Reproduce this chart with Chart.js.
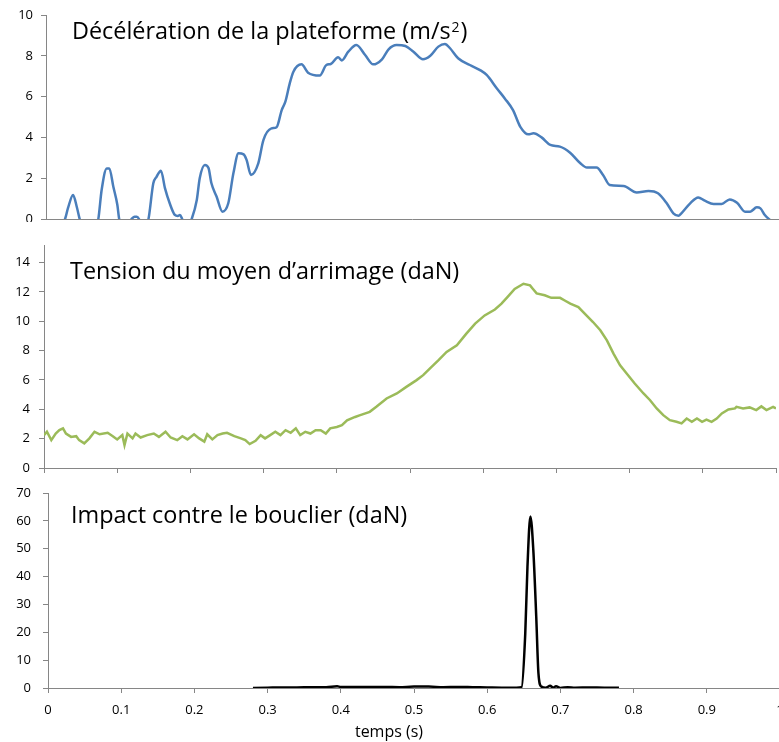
<!DOCTYPE html>
<html>
<head>
<meta charset="utf-8">
<script src="https://cdn.jsdelivr.net/npm/chart.js@4/dist/chart.umd.min.js"></script>
<style>
  html, body { margin:0; padding:0; background:#fff; overflow:hidden; width:779px; height:742px; }
  canvas { position:absolute; left:0; }
</style>
</head>
<body>
<canvas id="decel" width="779" height="222" style="top:0"></canvas>
<canvas id="tension" width="779" height="250" style="top:230px"></canvas>
<canvas id="impact" width="800" height="262" style="top:480px"></canvas>
<script>
// Décélération de la plateforme (m/s²)
const decelT = [0, 0.015, 0.026, 0.030, 0.037, 0.042, 0.046, 0.058, 0.0715, 0.076, 0.083, 0.0865, 0.092, 0.0975, 0.100,
  0.108, 0.117, 0.121, 0.124, 0.127, 0.133, 0.140, 0.1466, 0.151, 0.157, 0.1626, 0.169, 0.176, 0.180, 0.183, 0.186, 0.192,
  0.199, 0.206, 0.210, 0.217, 0.222, 0.226, 0.233, 0.241, 0.249, 0.256, 0.263, 0.270, 0.274, 0.280, 0.290, 0.297, 0.308,
  0.315, 0.322, 0.327, 0.333, 0.338, 0.349, 0.358, 0.374, 0.383, 0.389, 0.399, 0.404, 0.413, 0.424, 0.436, 0.447, 0.459,
  0.468, 0.479, 0.491, 0.502, 0.515, 0.525, 0.536, 0.545, 0.552, 0.563, 0.579, 0.593, 0.602, 0.616, 0.627, 0.638, 0.648,
  0.659, 0.666, 0.677, 0.689, 0.702, 0.716, 0.730, 0.739, 0.752, 0.761, 0.770, 0.789, 0.807, 0.823, 0.836, 0.848, 0.857,
  0.864, 0.868, 0.880, 0.891, 0.900, 0.912, 0.923, 0.934, 0.944, 0.955, 0.962, 0.971, 0.976, 0.982, 0.989, 1.0];
const decelV = [-0.8, -0.4, 0, 0.53, 1.18, 0.6, 0, -1.5, 0, 1.42, 2.48, 2.48, 1.58, 0.69, 0,
  -0.4, 0, 0.11, 0.11, 0, -0.6, 0, 1.75, 2.07, 2.37, 1.5, 0.77, 0.2, 0.15, 0.2, 0, -0.5,
  0, 0.93, 2.0, 2.65, 2.5, 1.75, 1.1, 0.36, 0.77, 2.24, 3.22, 3.17, 2.9, 2.16, 2.73, 3.87, 4.44,
  4.5, 5.34, 5.75, 6.65, 7.22, 7.58, 7.17, 7.03, 7.55, 7.6, 7.93, 7.77, 8.2, 8.53, 8.04, 7.58, 7.83,
  8.32, 8.53, 8.48, 8.2, 7.83, 8.0, 8.45, 8.58, 8.37, 7.88, 7.55, 7.3, 7.06, 6.4, 5.9, 5.34, 4.52,
  4.15, 4.2, 4.0, 3.63, 3.55, 3.25, 2.73, 2.52, 2.52, 2.16, 1.67, 1.62, 1.3, 1.37, 1.26, 0.77, 0.28,
  0.16, 0.28, 0.77, 1.06, 0.9, 0.74, 0.74, 0.96, 0.8, 0.36, 0.36, 0.57, 0.52, 0.2, -0.05, -0.4];

// Tension du moyen d'arrimage (daN)
const tensionT = [0, 0.004, 0.010, 0.016, 0.021, 0.026, 0.030, 0.037, 0.044, 0.048, 0.055, 0.062, 0.069, 0.076, 0.087,
  0.094, 0.100, 0.107, 0.110, 0.114, 0.121, 0.125, 0.132, 0.141, 0.150, 0.157, 0.166, 0.173, 0.182, 0.189, 0.196, 0.205,
  0.212, 0.219, 0.223, 0.230, 0.237, 0.244, 0.250, 0.260, 0.269, 0.275, 0.281, 0.289, 0.296, 0.302, 0.309, 0.316, 0.323,
  0.330, 0.337, 0.344, 0.350, 0.357, 0.364, 0.371, 0.378, 0.385, 0.391, 0.400, 0.407, 0.414, 0.425, 0.432, 0.445, 0.454,
  0.468, 0.482, 0.495, 0.509, 0.518, 0.527, 0.539, 0.550, 0.564, 0.577, 0.589, 0.602, 0.616, 0.625, 0.634, 0.643, 0.655,
  0.664, 0.668, 0.673, 0.684, 0.693, 0.705, 0.712, 0.719, 0.730, 0.741, 0.750, 0.760, 0.769, 0.778, 0.787, 0.796, 0.807,
  0.819, 0.828, 0.837, 0.846, 0.855, 0.864, 0.871, 0.878, 0.885, 0.892, 0.899, 0.905, 0.912, 0.919, 0.926, 0.935, 0.944,
  0.946, 0.955, 0.964, 0.973, 0.980, 0.987, 0.996, 1.0];
const tensionV = [2.24, 2.47, 1.9, 2.35, 2.58, 2.7, 2.35, 2.12, 2.17, 1.9, 1.68, 2.02, 2.47, 2.3, 2.4,
  2.17, 1.95, 2.24, 1.56, 2.35, 2.02, 2.35, 2.08, 2.24, 2.35, 2.12, 2.47, 2.08, 1.9, 2.17, 1.95, 2.3,
  2.02, 1.8, 2.3, 1.95, 2.24, 2.35, 2.4, 2.17, 2.02, 1.9, 1.63, 1.85, 2.24, 2.02, 2.24, 2.47, 2.24,
  2.58, 2.4, 2.7, 2.24, 2.47, 2.35, 2.58, 2.58, 2.35, 2.7, 2.8, 2.92, 3.25, 3.48, 3.6, 3.83, 4.17,
  4.74, 5.08, 5.53, 5.99, 6.33, 6.78, 7.35, 7.91, 8.37, 9.16, 9.84, 10.4, 10.8, 11.2, 11.7, 12.2, 12.56,
  12.45, 12.2, 11.9, 11.77, 11.6, 11.6, 11.4, 11.2, 10.97, 10.4, 9.95, 9.39, 8.7, 7.8, 7.0, 6.44, 5.76,
  5.08, 4.62, 4.06, 3.6, 3.26, 3.15, 3.04, 3.37, 3.15, 3.37, 3.15, 3.3, 3.15, 3.37, 3.72, 3.99, 4.06,
  4.17, 4.06, 4.13, 3.95, 4.2, 3.95, 4.17, 4.06];

// Impact contre le bouclier (daN)
const impactT = [0.28, 0.30, 0.32, 0.34, 0.36, 0.38, 0.395, 0.40, 0.42, 0.44, 0.46, 0.48, 0.50, 0.52, 0.54, 0.56, 0.58,
  0.60, 0.62, 0.64, 0.647, 0.652, 0.655, 0.659, 0.663, 0.667, 0.670, 0.674, 0.68, 0.686, 0.69, 0.694, 0.70, 0.71, 0.72,
  0.74, 0.76, 0.78];
const impactV = [0, 0.1, 0.2, 0.2, 0.3, 0.3, 0.6, 0.4, 0.4, 0.4, 0.4, 0.3, 0.5, 0.5, 0.3, 0.4, 0.3,
  0.2, 0.1, 0.1, 0.3, 19.6, 43.5, 61.6, 49.5, 25.6, 5.3, 0.5, 0.1, 0.8, 0.1, 0.6, 0, 0.3, 0.1,
  0.2, 0.1, 0.1];

const xTicks = [0, 0.1, 0.2, 0.3, 0.4, 0.5, 0.6, 0.7, 0.8, 0.9, 1];

const FONT = '"Open Sans", Lato, sans-serif';
Chart.defaults.font.family = FONT;
Chart.defaults.font.size = 13;
Chart.defaults.color = '#000';

const AXIS = '#868686';
const pts = (xs, ys) => xs.map((x, i) => ({x: x, y: ys[i]}));

// title drawn inside the plot area, top-left
const innerTitle = {
  id: 'innerTitle',
  afterDraw(chart, args, o) {
    const ctx = chart.ctx;
    ctx.save();
    ctx.fillStyle = '#000';
    ctx.textBaseline = 'alphabetic';
    ctx.font = '23.4px ' + FONT;
    let x = o.x;
    ctx.fillText(o.text, x, o.y);
    if (o.sup) {
      x += ctx.measureText(o.text).width;
      ctx.font = '14px ' + FONT;
      ctx.fillText(o.sup, x + 1, o.y - 7);
      x += ctx.measureText(o.sup).width + 2;
      ctx.font = '23.4px ' + FONT;
      ctx.fillText(o.after, x, o.y);
    }
    if (o.xTitle) {
      ctx.font = '16px ' + FONT;
      ctx.textAlign = 'center';
      ctx.fillText(o.xTitle, o.xtx, o.xty);
    }
    ctx.restore();
  }
};

function yAxis(max, step, width, pad) {
  return {
    min: 0, max: max,
    afterFit: s => { s.width = width; s.paddingTop = 0; s.paddingBottom = 0; },
    ticks: { stepSize: step, padding: pad, includeBounds: false },
    grid: { drawOnChartArea: false, drawTicks: true, tickLength: 5, color: AXIS },
    border: { display: true, color: AXIS, width: 1 }
  };
}

function xAxis(height, showTicks, showLabels) {
  return {
    type: 'linear', min: 0, max: 1,
    afterFit: s => { s.height = height; s.paddingLeft = 0; s.paddingRight = 0; },
    afterBuildTicks: s => { s.ticks = xTicks.map(v => ({value: v})); },
    ticks: { display: showLabels, autoSkip: false, maxRotation: 0, padding: 9,
             callback: v => String(+v.toFixed(1)) },
    grid: { display: showTicks, drawOnChartArea: false, drawTicks: showTicks, tickLength: 5, color: AXIS },
    border: { display: true, color: AXIS, width: 1 }
  };
}

const common = {
  responsive: false, animation: false, parsing: false,
  plugins: { legend: { display: false }, tooltip: { enabled: false } }
};

new Chart(document.getElementById('decel'), {
  type: 'line',
  data: { datasets: [{ data: pts(decelT, decelV), borderColor: '#4a7ebb', borderWidth: 2.5,
    pointRadius: 0, cubicInterpolationMode: 'monotone', clip: 0 }] },
  options: { ...common,
    layout: { autoPadding: false, padding: { top: 15, right: 1, bottom: 3, left: 0 } },
    scales: { x: xAxis(0, false, false), y: yAxis(10, 2, 46, 8) },
    plugins: { ...common.plugins,
      innerTitle: { text: 'Décélération de la plateforme (m/s', sup: '2', after: ')', x: 72, y: 39 } } },
  plugins: [innerTitle]
});

new Chart(document.getElementById('tension'), {
  type: 'line',
  data: { datasets: [{ data: pts(tensionT, tensionV), borderColor: '#9bbb59', borderWidth: 2.5,
    pointRadius: 0, tension: 0, clip: 0 }] },
  options: { ...common,
    layout: { autoPadding: false, padding: { top: 15, right: 3, bottom: 0, left: 0 } },
    scales: { x: xAxis(12, true, false), y: yAxis(15.2, 2, 44, 9) },
    plugins: { ...common.plugins,
      innerTitle: { text: 'Tension du moyen d\u2019arrimage (daN)', x: 70, y: 49 } } },
  plugins: [innerTitle]
});

new Chart(document.getElementById('impact'), {
  type: 'line',
  data: { datasets: [{ data: pts(impactT, impactV), borderColor: '#000', borderWidth: 2.5,
    pointRadius: 0, cubicInterpolationMode: 'monotone', clip: 0 }] },
  options: { ...common,
    layout: { autoPadding: false, padding: { top: 13, right: 20, bottom: 0, left: 0 } },
    scales: { x: xAxis(54, true, true), y: yAxis(70, 10, 48, 12) },
    plugins: { ...common.plugins,
      innerTitle: { text: 'Impact contre le bouclier (daN)', x: 71, y: 43, xTitle: 'temps (s)', xtx: 389, xty: 257 } } },
  plugins: [innerTitle]
});
</script>
</body>
</html>
